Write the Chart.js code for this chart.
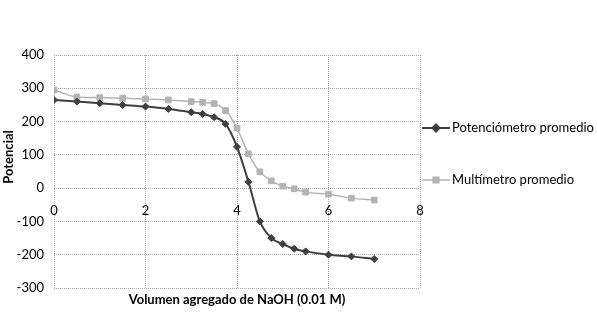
<!DOCTYPE html>
<html>
<head>
<meta charset="utf-8">
<script src="https://cdn.jsdelivr.net/npm/chart.js@4/dist/chart.umd.min.js"></script>
<style>
  html, body { margin: 0; padding: 0; background: #fff; }
  #wrap { width: 597px; height: 315px; position: relative; }
</style>
</head>
<body>
<div id="wrap"><canvas id="chart"></canvas></div>
<script>
// volumen de NaOH agregado (mL)
const volumen = [0, 0.5, 1, 1.5, 2, 2.5, 3, 3.25, 3.5, 3.75, 4, 4.25, 4.5, 4.75, 5, 5.25, 5.5, 6, 6.5, 7];
const potenciometro = [265, 260, 255, 250, 245, 238, 228, 223, 213, 193, 124, 19, -100, -150, -168, -182, -190, -200, -205, -213];
const multimetro = [295, 274, 272, 270, 268, 265, 260, 258, 254, 233, 180, 103, 49, 22, 6, -2, -12, -18, -30, -36];
const seriesNames = ['Potenciómetro promedio', 'Multímetro promedio'];
const xTitle = 'Volumen agregado de NaOH (0.01 M)';
const yTitle = 'Potencial';

const FONT = 'Lato, "Open Sans", sans-serif';
const darkCol = '#3f3f3f';
const lightCol = '#b3b3b3';

function toPoints(ys) {
    return volumen.map((v, i) => ({ x: v, y: ys[i] }));
}

// titulos y leyenda dibujados a mano
const extras = {
    id: 'extras',
    afterDraw(chart) {
        const ctx = chart.ctx;
        const area = chart.chartArea;
        ctx.save();
        ctx.fillStyle = '#000';
        ctx.font = 'bold 13px ' + FONT;
        ctx.textAlign = 'center';
        ctx.textBaseline = 'middle';
        ctx.fillText(xTitle, (area.left + area.right) / 2, 300);
        ctx.translate(9, 157);
        ctx.rotate(-Math.PI / 2);
        ctx.fillText(yTitle, 0, 0);
        ctx.restore();

        // leyenda
        const items = [
            { y: 128, color: darkCol, style: 'rectRot', r: 3.5, w: 2 },
            { y: 180, color: lightCol, style: 'rect', r: 4, w: 1.5 }
        ];
        items.forEach((it, i) => {
            ctx.save();
            ctx.strokeStyle = it.color;
            ctx.lineWidth = it.w;
            ctx.beginPath();
            ctx.moveTo(422, it.y);
            ctx.lineTo(450, it.y);
            ctx.stroke();
            Chart.helpers.drawPoint(ctx, { pointStyle: it.style, radius: it.r, borderWidth: 1 }, 436, it.y);
            ctx.fillStyle = it.color;
            ctx.fill();
            ctx.fillStyle = '#000';
            ctx.font = '13px ' + FONT;
            ctx.textAlign = 'left';
            ctx.textBaseline = 'middle';
            ctx.fillText(seriesNames[i], 452, it.y);
            ctx.restore();
        });
    }
};

new Chart(document.getElementById('chart').getContext('2d'), {
    type: 'line',
    data: {
        datasets: [{
            label: seriesNames[0],
            data: toPoints(potenciometro),
            borderColor: darkCol,
            backgroundColor: darkCol,
            borderWidth: 2,
            pointStyle: 'rectRot',
            pointRadius: 3.5,
            pointBorderWidth: 1,
            tension: 0.35,
            cubicInterpolationMode: 'monotone'
        }, {
            label: seriesNames[1],
            data: toPoints(multimetro),
            borderColor: lightCol,
            backgroundColor: lightCol,
            borderWidth: 1.5,
            pointStyle: 'rect',
            pointRadius: 4,
            pointBorderWidth: 1,
            tension: 0.35,
            cubicInterpolationMode: 'monotone'
        }]
    },
    options: {
        responsive: true,
        maintainAspectRatio: false,
        animation: false,
        layout: { padding: { top: 55, right: 177, bottom: 27, left: 0 } },
        plugins: { legend: { display: false }, tooltip: { enabled: false } },
        scales: {
            x: {
                type: 'linear',
                position: { y: 0 },
                min: 0,
                max: 8,
                ticks: { stepSize: 2, color: '#000', font: { family: FONT, size: 13 }, padding: 15 },
                grid: { color: '#a8a8a8', tickLength: 0, lineWidth: 1 },
                border: { display: false, dash: [1, 1] }
            },
            y: {
                min: -300,
                max: 400,
                ticks: { stepSize: 100, color: '#000', font: { family: FONT, size: 13 }, padding: 10 },
                grid: { color: '#a8a8a8', tickLength: 0, lineWidth: 1 },
                border: { display: false, dash: [1, 1] },
                afterFit(scale) { scale.width = 54; }
            }
        }
    },
    plugins: [extras]
});
</script>
</body>
</html>
